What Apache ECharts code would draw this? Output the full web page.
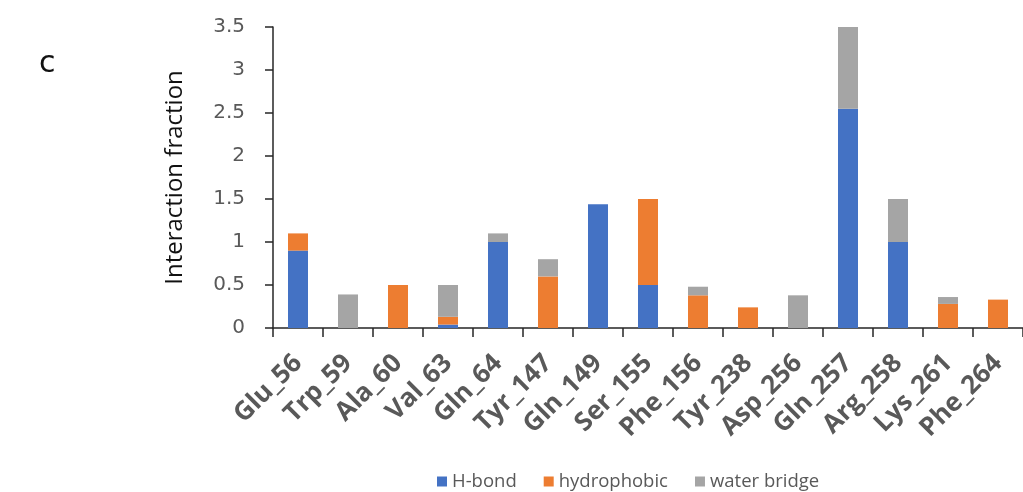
<!DOCTYPE html>
<html>
<head>
<meta charset="utf-8">
<script src="https://cdn.jsdelivr.net/npm/echarts@6/dist/echarts.min.js"></script>
<style>
  html, body { margin: 0; padding: 0; background: #fff; }
  #chart { width: 1023px; height: 492px; }
</style>
</head>
<body>
<div id="chart"></div>
<script>
// Residues contacting the ligand
const residues = ['Glu_56', 'Trp_59', 'Ala_60', 'Val_63', 'Gln_64', 'Tyr_147', 'Gln_149', 'Ser_155',
  'Phe_156', 'Tyr_238', 'Asp_256', 'Gln_257', 'Arg_258', 'Lys_261', 'Phe_264'];

// Interaction fractions per contact type
const hBond       = [0.9, 0, 0, 0.04, 1.0, 0, 1.44, 0.5, 0, 0, 0, 2.55, 1.0, 0, 0];
const hydrophobic = [0.2, 0, 0.5, 0.09, 0, 0.6, 0, 1.0, 0.38, 0.24, 0, 0, 0, 0.28, 0.33];
const waterBridge = [0, 0.39, 0, 0.37, 0.1, 0.2, 0, 0, 0.1, 0, 0.38, 0.95, 0.5, 0.08, 0];

const yTicks = { min: 0, max: 3.5, interval: 0.5 };

const FONT = '"Open Sans", sans-serif';
const AXIS_COLOR = '#262626';
const LABEL_COLOR = '#595959';

const chart = echarts.init(document.getElementById('chart'), null, { renderer: 'canvas' });

// absent contact types are left empty so no zero-height sliver is drawn
function barSeries(name, values, color) {
  return {
    name, type: 'bar', stack: 'total',
    data: values.map(v => (v === 0 ? null : v)),
    barWidth: 20,
    itemStyle: { color },
    emphasis: { disabled: true }
  };
}

chart.setOption({
  animation: false,
  backgroundColor: '#ffffff',
  color: ['#4472C4', '#ED7D31', '#A5A5A5'],
  graphic: [{
    type: 'text', left: 39, top: 49,
    style: { text: 'c', font: '30px "DejaVu Sans", sans-serif', fill: '#111' }
  }],
  legend: {
    bottom: -4, left: 432,
    icon: 'rect', itemWidth: 10, itemHeight: 10, itemGap: 27,
    textStyle: { fontFamily: FONT, fontSize: 18.5, color: LABEL_COLOR, padding: [0, 0, 0, 0] },
    data: ['H-bond', 'hydrophobic', 'water bridge']
  },
  grid: { left: 273, top: 27, right: -9, bottom: 164, containLabel: false },
  xAxis: {
    type: 'category', data: residues,
    axisLine: { lineStyle: { color: AXIS_COLOR, width: 1.5 } },
    axisTick: { show: true, length: 9, lineStyle: { color: AXIS_COLOR, width: 1.5 } },
    axisLabel: {
      rotate: 45, margin: 31, interval: 0,
      fontFamily: FONT, fontSize: 26, fontWeight: 'bold', color: LABEL_COLOR
    }
  },
  yAxis: {
    type: 'value', min: yTicks.min, max: yTicks.max, interval: yTicks.interval,
    name: 'Interaction fraction', nameLocation: 'middle', nameGap: 86,
    nameTextStyle: { fontFamily: FONT, fontSize: 24, color: '#111' },
    axisLine: { show: true, lineStyle: { color: AXIS_COLOR, width: 1.5 } },
    axisTick: { show: true, length: 8, lineStyle: { color: AXIS_COLOR, width: 1.5 } },
    splitLine: { show: false },
    axisLabel: { margin: 28, fontFamily: 'DejaVu Sans, sans-serif', fontSize: 20, color: LABEL_COLOR }
  },
  series: [
    barSeries('H-bond', hBond, '#4472C4'),
    barSeries('hydrophobic', hydrophobic, '#ED7D31'),
    barSeries('water bridge', waterBridge, '#A5A5A5')
  ]
});
</script>
</body>
</html>
